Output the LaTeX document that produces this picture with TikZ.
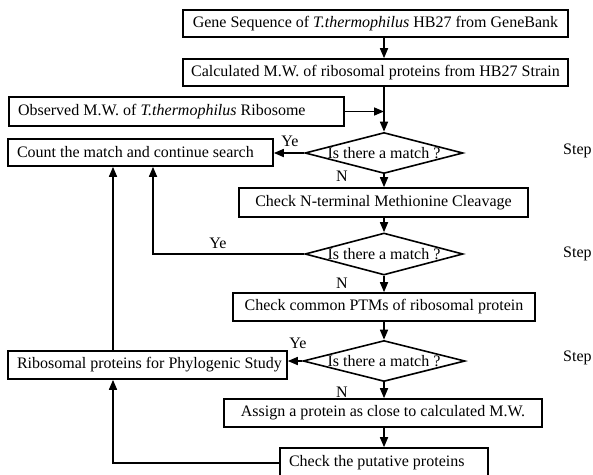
\documentclass[tikz,border=0pt]{standalone}
\usepackage{fontspec}
\setmainfont{Liberation Serif}
\usetikzlibrary{arrows.meta,shapes.geometric}
\begin{document}
\begin{tikzpicture}[x=1pt,y=-1pt,
  font=\fontsize{16}{19}\selectfont,
  box/.style={draw,line width=1.6pt,inner sep=0pt,minimum height=28pt},
  lbox/.style={box,inner xsep=9pt},
  diam/.style={draw,diamond,line width=1.6pt,inner sep=0pt,minimum width=158pt,minimum height=41pt},
  arr/.style={line width=1.6pt,-{Triangle[length=10pt,width=8pt]}},
  lab/.style={inner sep=0pt}]
\useasboundingbox (0,0) rectangle (593,474);
\fill[white] (0,0) rectangle (593,474);
% nodes
\node[box,minimum width=385pt,minimum height=27pt] (b1) at (375.5,23.5) {Gene Sequence of \textit{T.thermophilus} HB27 from GeneBank};
\node[box,minimum width=385pt,minimum height=27pt] (b2) at (375.5,72.5) {Calculated M.W. of ribosomal proteins from HB27 Strain};
\node[lbox,minimum height=29pt] (obs) at (176.5,111.5) {\makebox[317pt][l]{Observed M.W. of \textit{T.thermophilus} Ribosome}};
\node[lbox,minimum height=27pt] (cnt) at (140.5,152.5) {\makebox[247pt][l]{Count the match and continue search}};
\node[diam] (d1) at (384,153) {};
\node[lab] (t1) at (d1) {Is there a match ?};
\node[box,minimum width=289pt,minimum height=29pt] (nt) at (383.5,202.5) {Check N-terminal Methionine Cleavage};
\node[diam,minimum height=42pt] (d2) at (384,254) {};
\node[lab] (t2) at (d2) {Is there a match ?};
\node[box,minimum width=302pt,minimum height=28pt] (ptm) at (384,307) {Check common PTMs of ribosomal protein};
\node[diam,minimum width=162pt] (d3) at (384,361) {};
\node[lab] (t3) at (d3) {Is there a match ?};
\node[lbox,minimum height=28pt] (ribo) at (147.5,365) {\makebox[261pt][l]{Ribosomal proteins for Phylogenic Study}};
\node[box,minimum width=318pt,minimum height=28pt] (asg) at (383,413) {Assign a protein as close to calculated M.W.};
\node[lbox,minimum height=30pt] (put) at (384,463) {\makebox[190pt][l]{Check the putative proteins}};
% labels
\node[lab] (y1) at (290,141) {Ye};
\node[lab] (n1) at (342,176) {N};
\node[lab] (y2) at (218,243) {Ye};
\node[lab] (n2) at (342,283) {N};
\node[lab] (y3) at (298,343) {Ye};
\node[lab] (n3) at (342,392) {N};
\node[lab,anchor=west] (s1) at (563,151) {Step};
\node[lab,anchor=west] (s2) at (563,254) {Step};
\node[lab,anchor=west] (s3) at (563,358) {Step};
% helper coordinates
\coordinate (c1) at (113,0);
\coordinate (c2) at (153,0);
% connectors
\draw[arr] (b1.south -| d1.north) -- (b2.north -| d1.north);
\draw[arr] (b2.south -| d1.north) -- (d1.north);
\draw[arr] (obs.east) -- (obs.east -| d1.north);
\draw[arr] (d1.west) -- (d1.west -| cnt.east);
\draw[arr] (d1.south) -- (nt.north -| d1.south);
\draw[arr] (nt.south -| d2.north) -- (d2.north);
\draw[arr] (d2.west) -| (c2 |- cnt.south);
\draw[arr] (d2.south) -- (ptm.north -| d2.south);
\draw[arr] (ptm.south -| d3.north) -- (d3.north);
\draw[arr] (d3.west) -- (d3.west -| ribo.east);
\draw[arr] (d3.south) -- (asg.north -| d3.south);
\draw[arr] (asg.south -| put.north) -- (put.north);
\draw[arr] (put.west) -| (c1 |- ribo.south);
\draw[arr] (c1 |- ribo.north) -- (c1 |- cnt.south);
\end{tikzpicture}
\end{document}
